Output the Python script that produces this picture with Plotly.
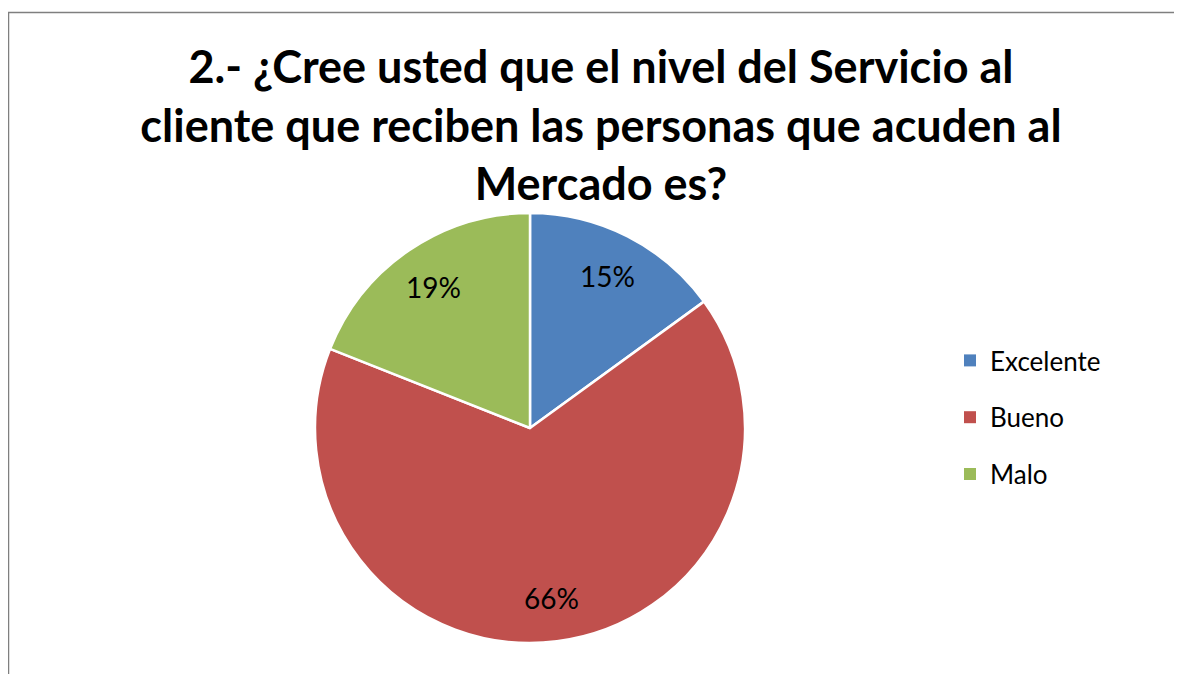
import math
import plotly.graph_objects as go

# ---- data ----
categories = ["Excelente", "Bueno", "Malo"]
percentages = [15, 66, 19]
colors = ["#4F81BD", "#C0504D", "#9BBB59"]
title_lines = [
    "2.- ¿Cree usted que el nivel del Servicio al",
    "cliente que reciben las personas que acuden al",
    "Mercado es?",
]

W, H = 1182, 674
OX, OY = 8, 8            # page offset of the figure inside the browser window
cx, cy, R = 530, 428, 215  # pie centre / radius in screen pixels


def px_x(x):
    return (x - OX) / W


def px_y(y):
    return 1 - (y - OY) / H


fig = go.Figure()
fig.add_trace(go.Pie(
    labels=categories,
    values=percentages,
    marker=dict(colors=colors, line=dict(color="white", width=2.5)),
    sort=False,
    direction="clockwise",
    rotation=0,
    textinfo="none",
    hoverinfo="label+percent",
    showlegend=False,
    domain=dict(x=[px_x(cx - R), px_x(cx + R)], y=[px_y(cy + R), px_y(cy - R)]),
))

# legend via marker-only traces
for i, (c, col) in enumerate(zip(categories, colors)):
    fig.add_trace(go.Scatter(
        x=[None], y=[None], mode="markers", name=c,
        marker=dict(symbol="square", size=12, color=col),
        legendgroup=f"g{i}", showlegend=True,
    ))

# percentage labels placed along each slice's mid-angle
total = sum(percentages)
cum = 0
for v in percentages:
    mid = (cum + v / 2) / total * 2 * math.pi
    cum += v
    r = 0.795 * R
    lx = cx + r * math.sin(mid)
    ly = cy - r * math.cos(mid)
    fig.add_annotation(
        x=px_x(lx), y=px_y(ly), xref="paper", yref="paper",
        text=f"{round(v / total * 100)}%", showarrow=False,
        font=dict(family="Lato, Carlito, sans-serif", size=28, color="black"),
        xanchor="center", yanchor="middle",
    )

fig.update_layout(
    width=W, height=H,
    margin=dict(l=0, r=0, t=0, b=0),
    paper_bgcolor="white", plot_bgcolor="white",
    title=dict(
        text="<br>".join(title_lines),
        x=px_x(601), xanchor="center",
        y=1 - 75 / H, yanchor="top",
        xref="paper", yref="paper",
        font=dict(family="Lato, Carlito, sans-serif", size=45, color="black", weight="bold"),
    ),
    xaxis=dict(visible=False),
    yaxis=dict(visible=False),
    legend=dict(
        x=px_x(950), y=px_y(337), xanchor="left", yanchor="top",
        font=dict(family="Lato, Carlito, sans-serif", size=26, color="black"),
        tracegroupgap=20,
        itemwidth=30,
        bgcolor="rgba(0,0,0,0)",
    ),
    shapes=[dict(
        type="rect", xref="paper", yref="paper",
        x0=px_x(8.5), x1=1.02, y0=-0.02, y1=px_y(12.5),
        line=dict(color="#7f7f7f", width=1.5), fillcolor="rgba(0,0,0,0)",
    )],
)

fig.write_html("out.html")
